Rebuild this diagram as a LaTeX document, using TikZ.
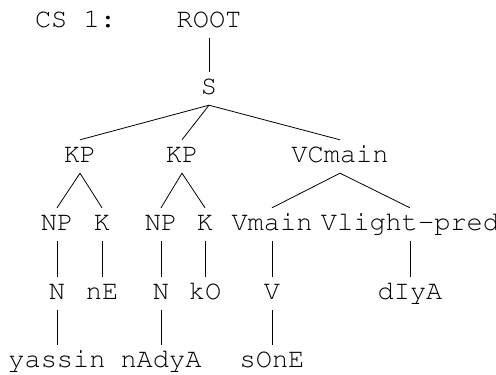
\documentclass[tikz,border=0pt]{standalone}
\usepackage[T1]{fontenc}
\newcommand{\crfont}{\fontencoding{T1}\fontfamily{pcr}\fontseries{m}\fontshape{n}\fontsize{27}{31}\selectfont}
\begin{document}
\begin{tikzpicture}[x=1pt,y=-1pt,
  lbl/.style={anchor=base,inner sep=0pt,text height=22pt,text depth=11pt,font=\crfont},
  edge/.style={draw=black,line width=0.8pt}]
\useasboundingbox (0,0) rectangle (496,375);
% row 0
\node[lbl] (cs) at (75.5,27) {CS 1:};
\node[lbl] (root) at (209,27) {ROOT};
% row 1
\node[lbl] (s) at (209,94) {S};
% row 2
\node[lbl] (kp1) at (80,162) {KP};
\node[lbl] (kp2) at (182,162) {KP};
\node[lbl] (vc) at (340,162) {VCmain};
% row 3
\node[lbl] (np1) at (57,230) {NP};
\node[lbl] (k1) at (102,230) {K};
\node[lbl] (np2) at (161,230) {NP};
\node[lbl] (k2) at (205,230) {K};
\node[lbl] (vm) at (272,230) {Vmain};
\node[lbl] (vl) at (410,230) {Vlight-pred};
% row 4
\node[lbl] (n1) at (57,299) {N};
\node[lbl] (ne) at (102,299) {nE};
\node[lbl] (n2) at (161,299) {N};
\node[lbl] (ko) at (205,299) {kO};
\node[lbl] (v) at (272,299) {V};
\node[lbl] (diya) at (410,299) {dIyA};
% row 5
\node[lbl] (yassin) at (57,367) {yassin};
\node[lbl] (nadya) at (161,367) {nAdyA};
\node[lbl] (sone) at (272,367) {sOnE};
% edges
\draw[edge] (root.south) -- (s.north);
\draw[edge] (s.south) -- (kp1.north);
\draw[edge] (s.south) -- (kp2.north);
\draw[edge] (s.south) -- (vc.north);
\draw[edge] (kp1.south) -- (np1.north);
\draw[edge] (kp1.south) -- (k1.north);
\draw[edge] (kp2.south) -- (np2.north);
\draw[edge] (kp2.south) -- (k2.north);
\draw[edge] (vc.south) -- (vm.north);
\draw[edge] (vc.south) -- (vl.north);
\draw[edge] (np1.south) -- (n1.north);
\draw[edge] (k1.south) -- (ne.north);
\draw[edge] (np2.south) -- (n2.north);
\draw[edge] (k2.south) -- (ko.north);
\draw[edge] (vm.south) -- (v.north);
\draw[edge] (vl.south) -- (diya.north);
\draw[edge] (n1.south) -- (yassin.north);
\draw[edge] (n2.south) -- (nadya.north);
\draw[edge] (v.south) -- (sone.north);
\end{tikzpicture}
\end{document}
